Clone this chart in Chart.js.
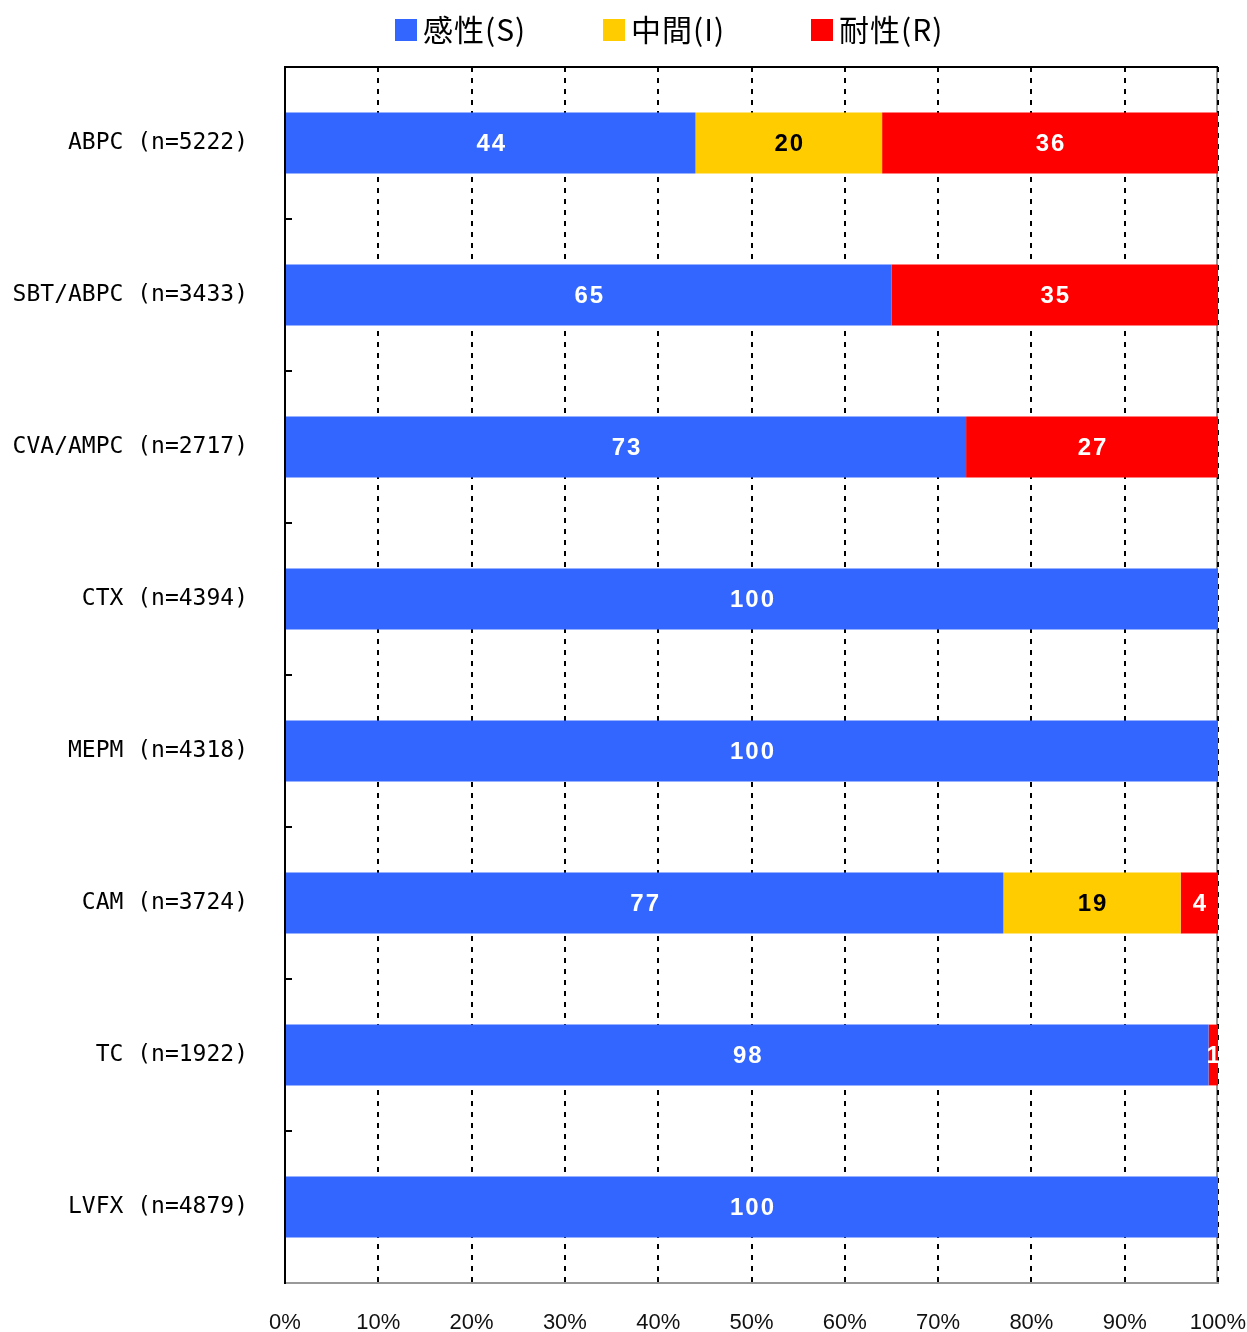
<!DOCTYPE html>
<html lang="ja">
<head>
<meta charset="utf-8">
<script src="https://cdn.jsdelivr.net/npm/chart.js@4.4.1/dist/chart.umd.min.js"></script>
<style>
html, body { margin: 0; padding: 0; background: #fff; }
#wrap { width: 1247px; height: 1332px; position: relative; }
</style>
</head>
<body>
<div id="wrap"><canvas id="chart"></canvas></div>
<script>
// 薬剤と検体数
const drugs = ['ABPC', 'SBT/ABPC', 'CVA/AMPC', 'CTX', 'MEPM', 'CAM', 'TC', 'LVFX'];
const counts = [5222, 3433, 2717, 4394, 4318, 3724, 1922, 4879];

// 割合(%) - 図の数値
const susceptible = [44, 65, 73, 100, 100, 77, 98, 100];
const intermediate = [20, 0, 0, 0, 0, 19, 0, 0];
const resistant = [36, 35, 27, 0, 0, 4, 1, 0];

const seriesNames = ['感性(S)', '中間(I)', '耐性(R)'];
const seriesColors = ['#3366FF', '#FFCC00', '#FF0000'];
const valueColors = ['#FFFFFF', '#000000', '#FFFFFF'];

const xTicks = [0, 10, 20, 30, 40, 50, 60, 70, 80, 90, 100];

const categoryLabels = drugs.map((d, i) => `${d} (n=${counts[i]})`);

// 各行を100%に揃える（丸め誤差があるため）
const rowTotals = drugs.map((_, i) => susceptible[i] + intermediate[i] + resistant[i]);
const toShare = arr => arr.map((v, i) => v / rowTotals[i] * 100);

const rawSeries = [susceptible, intermediate, resistant];

// 棒の中に数値を書く
const barLabels = {
    id: 'barLabels',
    afterDatasetsDraw(chart) {
        const ctx = chart.ctx;
        ctx.save();
        ctx.font = 'bold 24px "Liberation Sans", Arial, sans-serif';
        ctx.textAlign = 'center';
        ctx.textBaseline = 'middle';
        ctx.letterSpacing = '2px';
        chart.data.datasets.forEach((ds, di) => {
            const meta = chart.getDatasetMeta(di);
            meta.data.forEach((bar, i) => {
                const raw = rawSeries[di][i];
                if (!raw) return;
                ctx.fillStyle = valueColors[di];
                ctx.fillText(String(raw), (bar.x + bar.base) / 2 + 1, bar.y + 1);
            });
        });
        ctx.restore();
    }
};

// 枠線と左軸の区切り目盛り
const frame = {
    id: 'frame',
    beforeDraw(chart) {
        const { ctx, chartArea: a } = chart;
        ctx.save();
        ctx.lineWidth = 2;
        ctx.strokeStyle = '#999';
        ctx.beginPath(); ctx.moveTo(a.right - 1, a.top); ctx.lineTo(a.right - 1, a.bottom); ctx.stroke();
        ctx.restore();
    },
    afterDatasetsDraw(chart) {
        const { ctx, chartArea: a, scales: { y } } = chart;
        ctx.save();
        ctx.lineWidth = 2;
        ctx.strokeStyle = '#000';
        ctx.beginPath(); ctx.moveTo(a.left, a.top); ctx.lineTo(a.right, a.top); ctx.stroke();
        for (let i = 1; i < drugs.length; i++) {
            const yy = Math.round((y.getPixelForValue(i - 1) + y.getPixelForValue(i)) / 2);
            ctx.beginPath(); ctx.moveTo(a.left, yy); ctx.lineTo(a.left + 7, yy); ctx.stroke();
        }
        ctx.restore();
    }
};

// 凡例（上部に横並び）
const legendRow = {
    id: 'legendRow',
    afterDraw(chart) {
        const { ctx, chartArea: a } = chart;
        ctx.save();
        ctx.font = '30px "Noto Sans CJK JP", sans-serif';
        ctx.textBaseline = 'middle';
        ctx.textAlign = 'left';
        ctx.letterSpacing = '1px';
        seriesNames.forEach((name, i) => {
            const x = a.left + 110 + i * 208;
            ctx.fillStyle = seriesColors[i];
            ctx.fillRect(x, 19, 22, 22);
            ctx.fillStyle = '#000';
            ctx.fillText(name, x + 28, 30);
        });
        ctx.restore();
    }
};

const ctx = document.getElementById('chart').getContext('2d');
new Chart(ctx, {
    type: 'bar',
    data: {
        labels: categoryLabels,
        datasets: rawSeries.map((arr, i) => ({
            label: seriesNames[i],
            data: toShare(arr),
            backgroundColor: seriesColors[i],
            borderWidth: 0,
            barPercentage: 0.4,
            categoryPercentage: 1.0
        }))
    },
    options: {
        indexAxis: 'y',
        responsive: true,
        maintainAspectRatio: false,
        animation: false,
        layout: { padding: { top: 67, right: 29, left: 0, bottom: 0 } },
        scales: {
            x: {
                stacked: true,
                min: 0,
                max: 100,
                afterBuildTicks(scale) { scale.ticks = xTicks.map(v => ({ value: v })); },
                ticks: {
                    callback: v => v + '%',
                    font: { family: '"Liberation Sans", Arial, sans-serif', size: 22 },
                    color: '#111',
                    padding: 27,
                    maxRotation: 0
                },
                grid: { color: '#000', lineWidth: 2, drawTicks: false },
                border: { color: '#999', width: 2, dash: [5, 6] },
                afterFit(scale) {
                    scale.height = 49;
                    scale.paddingLeft = 0;
                    scale.paddingRight = 0;
                }
            },
            y: {
                stacked: true,
                ticks: {
                    font: { family: '"DejaVu Sans Mono", monospace', size: 23 },
                    color: '#000',
                    padding: 37
                },
                grid: { display: false, drawTicks: false },
                border: { color: '#000', width: 2 },
                afterFit(scale) {
                    scale.width = 285;
                    scale.paddingTop = 0;
                    scale.paddingBottom = 0;
                }
            }
        },
        plugins: {
            legend: { display: false },
            tooltip: { enabled: false }
        }
    },
    plugins: [frame, barLabels, legendRow]
});
</script>
</body>
</html>
